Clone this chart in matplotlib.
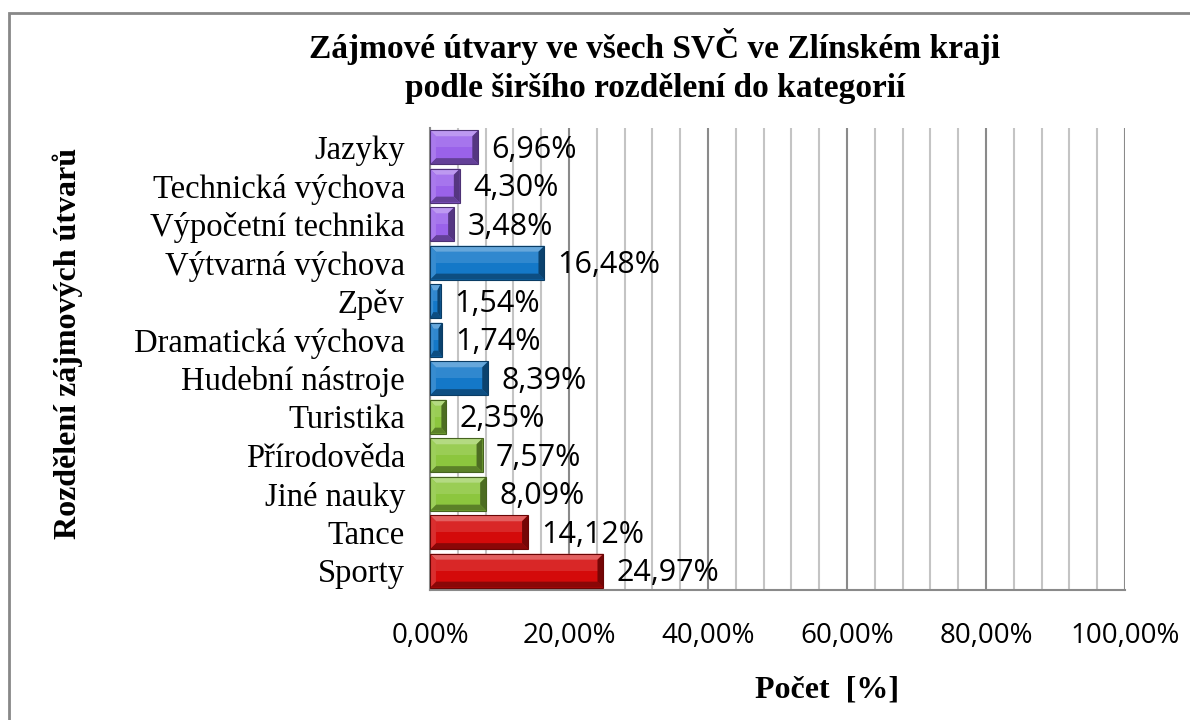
import numpy as np
import matplotlib.pyplot as plt
import matplotlib.colors as mcolors
from matplotlib.patches import Polygon, Rectangle
from matplotlib.ticker import MultipleLocator, FuncFormatter

# --- DATA ----------------------------------------------------------
categories = ["Sporty", "Tance", "Jiné nauky", "Přírodověda", "Turistika",
              "Hudební nástroje", "Dramatická výchova", "Zpěv",
              "Výtvarná výchova", "Výpočetní technika", "Technická výchova",
              "Jazyky"]
values = [24.97, 14.12, 8.09, 7.57, 2.35, 8.39, 1.74, 1.54, 16.48, 3.48, 4.30, 6.96]
groups = ["sport", "sport", "nature", "nature", "nature",
          "music", "music", "music", "music",
          "tech", "tech", "tech"]
group_colors = {"sport": "#d40a0a", "nature": "#8cc63e",
                "music": "#1478c8", "tech": "#9a62ea"}

title = "Zájmové útvary ve všech SVČ ve Zlínském kraji\npodle širšího rozdělení do kategorií"
xlabel = "Počet  [%]"
ylabel = "Rozdělení zájmových útvarů"

# --- HELPERS -------------------------------------------------------
def shade(color, f):
    r, g, b = mcolors.to_rgb(color)
    if f > 0:
        return (r + (1 - r) * f, g + (1 - g) * f, b + (1 - b) * f)
    return (r * (1 + f), g * (1 + f), b * (1 + f))


def bevel_bar(ax, y, w, h, color, bx, by):
    x0, x1 = 0.0, w
    y0, y1 = y - h / 2, y + h / 2
    bx = min(bx, w * 0.3)
    ax.add_patch(Rectangle((x0, y0), w, h, facecolor=color, edgecolor="none", zorder=3))
    # soft highlight on the upper half of the face
    ax.add_patch(Rectangle((x0, y), w, h / 2 - by, facecolor=shade(color, 0.12),
                           edgecolor="none", zorder=3))
    faces = [
        ([(x0, y1), (x1, y1), (x1 - bx, y1 - by), (x0 + bx, y1 - by)], shade(color, 0.35)),
        ([(x0, y0), (x1, y0), (x1 - bx, y0 + by), (x0 + bx, y0 + by)], shade(color, -0.35)),
        ([(x0, y0), (x0, y1), (x0 + bx, y1 - by), (x0 + bx, y0 + by)], shade(color, 0.15)),
        ([(x1, y0), (x1, y1), (x1 - bx, y1 - by), (x1 - bx, y0 + by)], shade(color, -0.45)),
    ]
    for pts, c in faces:
        ax.add_patch(Polygon(pts, closed=True, facecolor=c, edgecolor="none", zorder=4))
    ax.add_patch(Rectangle((x0, y0), w, h, facecolor="none",
                           edgecolor=shade(color, -0.5), linewidth=0.8, zorder=5))


# --- PLOT ----------------------------------------------------------
fig = plt.figure(figsize=(11.9, 7.2), dpi=100)
ax = fig.add_axes([0.3613, 0.1806, 0.5840, 0.6417])

n = len(categories)
ypos = np.arange(n)
bar_h = 0.88
ax.set_xlim(0, 100)
ax.set_ylim(-0.5, n - 0.5)

# bevel size in data units (about 6 px)
ax_w_px = fig.get_figwidth() * fig.dpi * 0.5840
ax_h_px = fig.get_figheight() * fig.dpi * 0.6417
bx = 6 * 100 / ax_w_px
by = 6 * n / ax_h_px

for y, v, g in zip(ypos, values, groups):
    bevel_bar(ax, y, v, bar_h, group_colors[g], bx, by)
    ax.annotate(f"{v:.2f}%".replace(".", ","), (v, y), xytext=(9.5, -2),
                textcoords="offset points", va="center", ha="left",
                fontsize=22, family="Open Sans", color="black", zorder=6)

ax.xaxis.set_major_locator(MultipleLocator(20))
ax.xaxis.set_minor_locator(MultipleLocator(4))
ax.xaxis.set_major_formatter(FuncFormatter(lambda x, p: f"{x:.2f}%".replace(".", ",")))
ax.grid(which="major", axis="x", color="#8a8a8a", linewidth=1.5, zorder=1)
ax.grid(which="minor", axis="x", color="#c4c4c4", linewidth=1.5, zorder=1)
ax.set_axisbelow(True)

ax.set_yticks(ypos)
ax.set_yticklabels(categories, family="Liberation Serif", fontsize=23.5)
ax.tick_params(axis="y", length=0, pad=18)
ax.tick_params(axis="x", which="both", length=0, pad=23)
for lab in ax.get_xticklabels():
    lab.set_family("Open Sans")
    lab.set_fontsize(20)

for s in ["top", "right"]:
    ax.spines[s].set_visible(False)
for s in ["left", "bottom"]:
    ax.spines[s].set_color("#8a8a8a")
    ax.spines[s].set_linewidth(1.5)

fig.text(655 / 1190, 1 - 66 / 720, title, ha="center", va="center",
         family="Liberation Serif", fontweight="bold", fontsize=24, linespacing=1.35)
fig.text(68 / 1190, 1 - 343 / 720, ylabel, ha="center", va="center", rotation=90,
         family="Liberation Serif", fontweight="bold", fontsize=23)
fig.text(827 / 1190, 1 - 690 / 720, xlabel, ha="center", va="center",
         family="Liberation Serif", fontweight="bold", fontsize=23)

# outer chart border (cut off at right and bottom)
fig.add_artist(Rectangle((9 / 1190, -0.05), 1.1, 1 - 13 / 720 + 0.05,
                         transform=fig.transFigure, fill=False,
                         edgecolor="#888888", linewidth=2))

fig.savefig("out.png", dpi=100)
